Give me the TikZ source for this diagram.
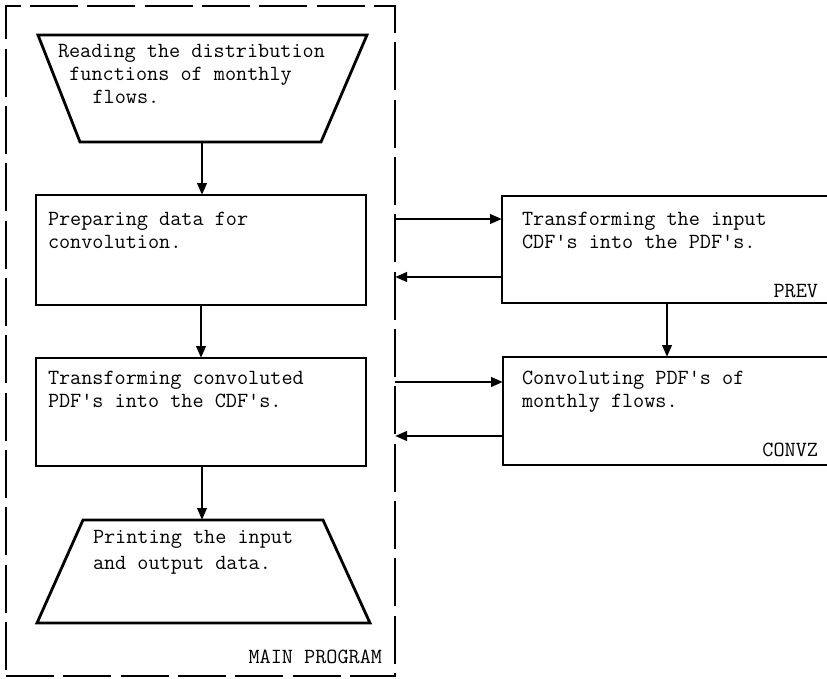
\documentclass[tikz,border=0pt]{standalone}
\usetikzlibrary{arrows.meta}
\newcommand{\ap}{\textquotesingle}
\newcommand{\stack}[1]{\begin{tabular}[t]{@{}l@{}}#1\end{tabular}}
\begin{document}
\begin{tikzpicture}[x=0.75pt,y=-0.75pt,
  every node/.style={inner sep=0pt, outer sep=0pt},
  box/.style={draw, rectangle, line width=2.1pt},
  trapline/.style={draw, line width=2.1pt, line join=miter},
  txt/.style={font=\ttfamily\fontsize{16.2}{17.6}\selectfont, anchor=base west},
  tag/.style={font=\ttfamily\fontsize{16.2}{17.6}\selectfont, anchor=base east},
  flow/.style={-{Triangle[length=9pt,width=7pt]}, line width=2.1pt},
  frame/.style={draw, rectangle, line width=2.1pt, dash pattern=on 36pt off 7pt}]
\useasboundingbox (0,0) rectangle (827,678);
\clip (0,0) rectangle (827,678);

% main program frame
\node[frame, minimum width=389*0.75pt, minimum height=670*0.75pt] (main) at (200.5,341) {};

% input block (inverted trapezium)
\draw[trapline] (38,35) -- (367,35) -- (321,142) -- (80,142) -- cycle;
\coordinate (read) at (202,142);
% processing blocks
\node[box, minimum width=330*0.75pt, minimum height=110*0.75pt] (prep) at (201,250) {};
\node[box, minimum width=330*0.75pt, minimum height=108*0.75pt] (conv) at (201,412) {};
% output block (trapezium)
\draw[trapline] (83,520) -- (323,520) -- (370,623) -- (37,623) -- cycle;
\coordinate (print) at (202,520);

% subroutines
\node[box, minimum width=350*0.75pt, minimum height=107*0.75pt] (prev) at (677,249.5) {};
\node[box, minimum width=350*0.75pt, minimum height=108*0.75pt] (convz) at (678,411) {};

% texts
\node[txt] (t-read) at (58,57) {\stack{Reading the distribution\\\hspace*{0.525em}functions of monthly\\\hspace*{1.6em}flows.}};
\node[txt] (t-prep) at (48,225) {\stack{Preparing data for\\convolution.}};
\node[txt] (t-conv) at (48,384) {\stack{Transforming convoluted\\PDF\ap s into the CDF\ap s.}};
\node[txt] (t-print) at (93,543) {\stack{Printing the input\\[2pt]and output data.}};
\node[txt] (t-prev) at (522,225) {\stack{Transforming the input\\CDF\ap s into the PDF\ap s.}};
\node[txt] (t-convz) at (522,384) {\stack{Convoluting PDF\ap s of\\monthly flows.}};
\node[tag] (l-main) at (382,663) {MAIN PROGRAM};
\node[tag] (l-prev) at (818,297) {PREV};
\node[tag] (l-convz) at (818,456) {CONVZ};

% flow of control
\draw[flow] (read) -- (read |- prep.north);
\draw[flow] (prep.south) -- (conv.north);
\draw[flow] (conv.south -| print) -- (print);
\draw[flow] (main.east |- 0,219) -- (prev.west |- 0,219);
\draw[flow] (prev.west |- 0,277) -- (main.east |- 0,277);
\draw[flow] (prev.south -| 667,0) -- (convz.north -| 667,0);
\draw[flow] (main.east |- 0,382) -- (convz.west |- 0,382);
\draw[flow] (convz.west |- 0,436) -- (main.east |- 0,436);
\end{tikzpicture}
\end{document}
